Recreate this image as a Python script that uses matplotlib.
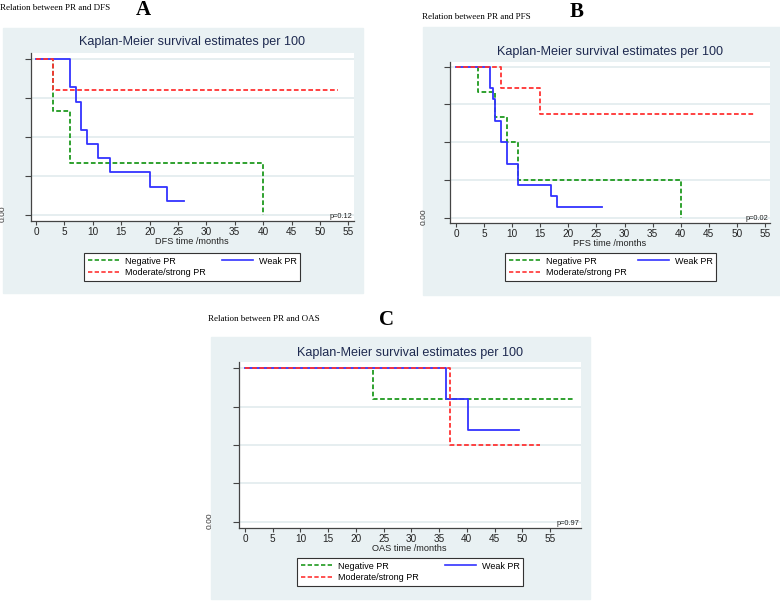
import matplotlib
matplotlib.use("Agg")
import matplotlib.pyplot as plt
from matplotlib.patches import Rectangle
from matplotlib.lines import Line2D

plt.rcParams['font.family'] = ['Liberation Sans', 'DejaVu Sans']

W, H = 780, 601

# ---- data (months, survival proportion) ----
xticks = [0, 5, 10, 15, 20, 25, 30, 35, 40, 45, 50, 55]
yticks = [0.0, 0.25, 0.5, 0.75, 1.0]
groups = ['Negative PR', 'Weak PR', 'Moderate/strong PR']

# A: DFS
neg_a_t = [0, 3, 6, 40]
neg_a_s = [1.0, 0.667, 0.333, 0.0]
weak_a_t = [0, 6, 7, 8, 9, 11, 13, 20, 23, 26]
weak_a_s = [1.0, 0.818, 0.727, 0.545, 0.455, 0.364, 0.273, 0.182, 0.091, 0.091]
mod_a_t = [0, 3, 53.2]
mod_a_s = [1.0, 0.80, 0.80]

# B: PFS
neg_b_t = [0, 4, 7, 9, 11, 40]
neg_b_s = [1.0, 0.833, 0.667, 0.5, 0.25, 0.0]
weak_b_t = [0, 6, 6.5, 7, 8, 9, 11, 17, 18, 26]
weak_b_s = [1.0, 0.857, 0.786, 0.643, 0.5, 0.357, 0.214, 0.143, 0.071, 0.071]
mod_b_t = [0, 8, 15, 53.1]
mod_b_s = [1.0, 0.857, 0.686, 0.686]

# C: OAS
neg_c_t = [0, 23, 59.3]
neg_c_s = [1.0, 0.8, 0.8]
weak_c_t = [0, 36.2, 40.3, 49.5]
weak_c_s = [1.0, 0.8, 0.6, 0.6]
mod_c_t = [0, 37, 53.2]
mod_c_s = [1.0, 0.5, 0.5]

colors = ['#1f9a1f', '#3333ff', '#ff3333']
styles = [(0, (2.6, 1.4)), '-', (0, (2.6, 1.4))]
bg = '#e9f1f3'
navy = '#1e2a50'

fig = plt.figure(figsize=(W / 100, H / 100), dpi=100)


def fx(x):
    return x / W


def fy(y):
    return 1 - y / H


def panel(box, ax_box, xlim, ylim, curves, title_xy, xlabel, xlabel_xy,
          leg_box, pval, zero_xy, head, head_xy, letter_xy):
    # grey panel background
    x0, y0, x1, y1 = box
    fig.patches.append(Rectangle((fx(x0), fy(y1)), fx(x1 - x0), (y1 - y0) / H,
                                 transform=fig.transFigure, color=bg, zorder=-5))
    l, t, r, b = ax_box
    ax = fig.add_axes([fx(l), fy(b), fx(r - l), (b - t) / H])
    ax.set_facecolor('white')
    for (tt, ss), c, ls in zip(curves, colors, styles):
        ax.step(tt, ss, where='post', color=c, linestyle=ls, lw=1.3)
    ax.set_xlim(*xlim)
    ax.set_ylim(*ylim)
    ax.set_xticks(xticks)
    ax.set_yticks(yticks)
    ax.set_yticklabels([])
    ax.grid(axis='y', color='#e2ebee', lw=1.2)
    ax.set_axisbelow(True)
    for s in ['top', 'right']:
        ax.spines[s].set_visible(False)
    for s in ['left', 'bottom']:
        ax.spines[s].set_color('#444444')
        ax.spines[s].set_linewidth(0.9)
    ax.tick_params(axis='x', length=3, width=0.8, color='#444444', labelsize=7.2,
                   pad=1.2, labelcolor='#222222')
    ax.tick_params(axis='y', length=4, width=0.8, color='#444444')
    ax.text(0.995, 0.008, pval, transform=ax.transAxes, ha='right', va='bottom',
            fontsize=5.3, color='#222222')
    fig.text(fx(title_xy[0]), fy(title_xy[1]), 'Kaplan-Meier survival estimates per 100',
             ha='center', va='center', fontsize=9.1, color=navy)
    fig.text(fx(xlabel_xy[0]), fy(xlabel_xy[1]), xlabel, ha='center', va='center',
             fontsize=6.6, color='#222222')
    fig.text(fx(zero_xy[0]), fy(zero_xy[1]), '0.00', ha='center', va='center',
             rotation=90, fontsize=6, color='#333333')
    fig.text(fx(head_xy[0]), fy(head_xy[1]), head, ha='left', va='center',
             fontsize=6.5, family='Liberation Serif')
    fig.text(fx(letter_xy[0]), fy(letter_xy[1]), letter_xy[2], ha='center', va='center',
             fontsize=15, family='Liberation Serif', weight='bold')
    # legend
    handles = [Line2D([], [], color=colors[i], linestyle=styles[i], lw=1.2) for i in range(3)]
    lx0, ly0, lx1, ly1 = leg_box
    leg = fig.legend([handles[0], handles[2], handles[1]], [groups[0], groups[2], groups[1]],
                     ncol=2, loc='center', mode='expand',
                     bbox_to_anchor=(fx(lx0), fy(ly1), fx(lx1 - lx0), (ly1 - ly0) / H),
                     fontsize=6.5, frameon=True, fancybox=False, edgecolor='#333333',
                     facecolor='white', framealpha=1,
                     handlelength=3.5, handletextpad=0.6, borderpad=0.45,
                     labelspacing=0.3, columnspacing=3.0)
    leg.get_frame().set_linewidth(0.8)
    return ax


panel((3, 28, 363, 293), (31, 53, 354, 221), (-0.88, 56.0), (-0.038, 1.038),
      [(neg_a_t, neg_a_s), (weak_a_t, weak_a_s), (mod_a_t, mod_a_s)],
      (192, 41.5), 'DFS time /months', (192, 241.5), (79, 252, 305, 282), 'p=0.12',
      (3, 214), 'Relation between PR and DFS', (0, 8), (143, 10, 'A'))

panel((423, 27, 780, 295), (450, 62, 770, 223), (-1.07, 55.9), (-0.035, 1.031),
      [(neg_b_t, neg_b_s), (weak_b_t, weak_b_s), (mod_b_t, mod_b_s)],
      (610, 52), 'PFS time /months', (610, 243.5), (500, 252, 721, 282), 'p=0.02',
      (424, 217), 'Relation between PR and PFS', (422, 17), (577, 12, 'B'))

panel((211, 337, 590, 599), (239, 362, 581, 528), (-1.08, 60.6), (-0.041, 1.041),
      [(neg_c_t, neg_c_s), (weak_c_t, weak_c_s), (mod_c_t, mod_c_s)],
      (410, 353), 'OAS time /months', (409, 548.5), (292, 557, 528, 587), 'p=0.97',
      (210, 521), 'Relation between PR and OAS', (208, 319), (386, 320, 'C'))

fig.savefig('out.png', dpi=100)
